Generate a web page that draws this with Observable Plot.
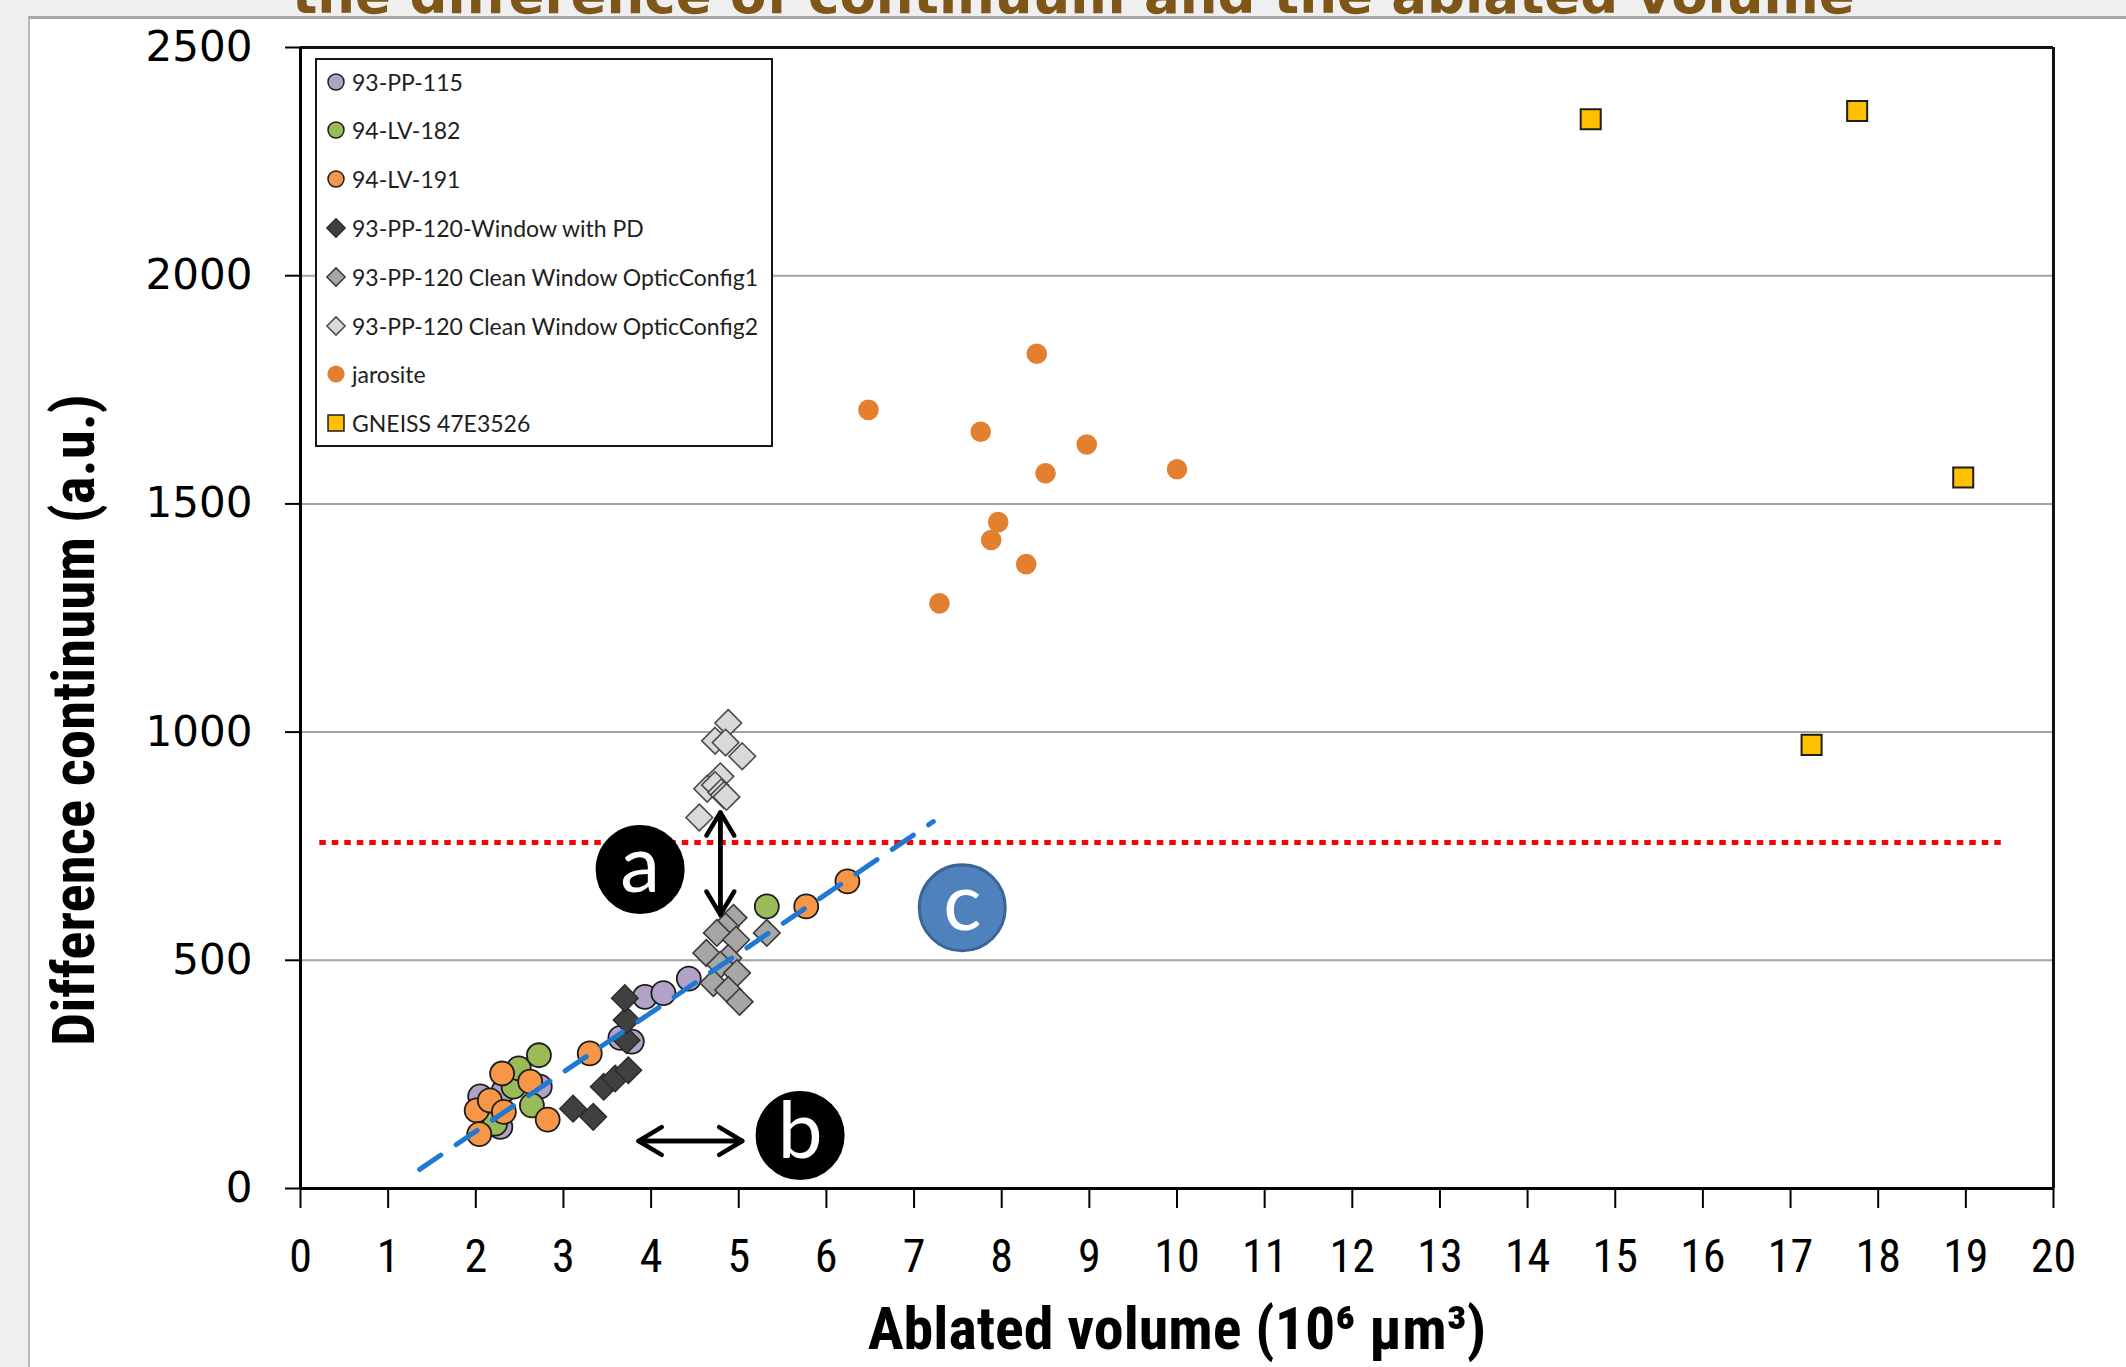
<!DOCTYPE html>
<html>
<head>
<meta charset="utf-8">
<script src="https://cdn.jsdelivr.net/npm/d3@7"></script>
<script src="https://cdn.jsdelivr.net/npm/@observablehq/plot@0.6"></script>
<style>
  html, body { margin: 0; padding: 0; }
  body { width: 2126px; height: 1367px; background: #efefef; position: relative; overflow: hidden; }
  #panel { position: absolute; left: 28px; top: 16px; width: 2098px; height: 1351px; background: #ffffff;
           border-left: 2px solid #b9b9b9; border-top: 3px solid #a9a9a9; box-sizing: border-box; }
  #title { position: absolute; left: 292px; top: -32px; font: bold 53px "DejaVu Sans"; line-height: 1;
           color: #7d5618; white-space: nowrap; }
  #chart { position: absolute; left: 0; top: 0; }
  #legend { position: absolute; left: 315px; top: 58px; width: 458px; height: 389px; box-sizing: border-box;
            border: 2px solid #151515; background: #ffffff; }
  .item { position: absolute; left: 0; height: 30px; display: flex; align-items: center; white-space: nowrap;
          font: 23px Lato, "Open Sans", sans-serif; color: #1e1e1e; }
  .item svg { margin-left: 4px; margin-right: 1px; }
</style>
</head>
<body>
<div id="panel"></div>
<div id="title">the difference of continuum and the ablated volume</div>
<div id="chart"></div>
<div id="legend"></div>
<script>
// ---------------- data ----------------
const seriesNames = [
  "93-PP-115", "94-LV-182", "94-LV-191", "93-PP-120-Window with PD",
  "93-PP-120 Clean Window OpticConfig1", "93-PP-120 Clean Window OpticConfig2",
  "jarosite", "GNEISS 47E3526"
];
// [ablated volume (10^6 µm³), difference continuum (a.u.)]
const pp115 = [[2.05,202],[2.28,135],[2.32,215],[2.73,223],[3.65,330],[3.78,322],[3.93,420],[4.14,428],[4.43,460]];
const lv182 = [[2.22,142],[2.43,223],[2.49,263],[2.64,182],[2.72,292],[5.32,618]];
const lv191 = [[2.01,171],[2.04,119],[2.16,193],[2.30,252],[2.32,168],[2.62,234],[2.82,151],[3.30,296],[5.77,618],[6.24,673]];
const pp120pd = [[3.11,175],[3.34,157],[3.46,223],[3.59,241],[3.74,259],[3.72,325],[3.72,369],[3.70,417]];
const pp120c1 = [[4.94,593],[4.85,574],[4.75,560],[4.97,545],[5.32,560],[4.63,516],[4.88,505],[4.79,490],[4.98,472],[4.71,450],[4.88,435],[5.01,409]];
const pp120c2 = [[4.88,1020],[4.73,981],[4.85,977],[5.04,947],[4.79,903],[4.64,876],[4.73,884],[4.80,868],[4.83,862],[4.86,858],[4.55,813]];
const jarosite = [[6.48,1706],[8.40,1829],[7.76,1658],[8.97,1630],[8.50,1567],[10.0,1576],[7.96,1460],[7.88,1421],[8.28,1368],[7.29,1282]];
const gneiss = [[14.72,2343],[17.76,2361],[18.97,1558],[17.24,972]];

const trendLine = [[1.36,42],[7.22,804]];              // blue dashed fit
const thresholdY = [758]; const thresholdX = [0.22, 19.45]; // red dotted line
const arrowA = [[4.79,600],[4.79,824]];
const arrowB = [[3.857,104],[5.04,104]];
const markerLabels = ["a","b","c"];
const markerPos = [[3.875,699],[5.70,116],[7.55,615]];

const xTicks = [0,1,2,3,4,5,6,7,8,9,10,11,12,13,14,15,16,17,18,19,20];
const yTicks = [0,500,1000,1500,2000,2500];
const gridTicks = [500,1000,1500,2000];
const xTitle = "Ablated volume (10\u2076 \u00b5m\u00b3)";
const yTitle = "Difference continuum (a.u.)";

// ---------------- fonts ----------------
function available(name) {
  const ctx = document.createElement("canvas").getContext("2d");
  const s = "0123456789 Ablated volume Difference";
  ctx.font = "40px monospace"; const a = ctx.measureText(s).width;
  ctx.font = `40px "${name}", monospace`; const b = ctx.measureText(s).width;
  ctx.font = "40px serif"; const c = ctx.measureText(s).width;
  ctx.font = `40px "${name}", serif`; const d = ctx.measureText(s).width;
  return a !== b || c !== d;
}
const NARROW = ["Liberation Sans Narrow", "Arial Narrow", "Roboto Condensed", "DejaVu Sans Condensed"].find(available) || "Liberation Sans";

// ---------------- styles per series ----------------
const seriesData = [pp115, lv182, lv191, pp120pd, pp120c1, pp120c2, jarosite, gneiss];
const seriesFill = ["#b3a2c7", "#9bbb59", "#f79646", "#404040", "#a6a6a6", "#d9d9d9", "#e2802f", "#ffc000"];
const seriesSymbol = ["circle", "circle", "circle", "diamond2", "diamond2", "diamond2", "circle", "square"];
const seriesR = [12, 12, 12, 12, 12, 12, 10.3, 11.3];
const seriesStroke = ["#1d1d1d", "#1d1d1d", "#1d1d1d", "#2a2a2a", "#3a3a3a", "#4a4a4a", "none", "#1d1d1d"];
const seriesSW = [1.8, 1.8, 1.8, 1.4, 1.6, 1.6, 0, 2];

const dotMarks = seriesData.map((data, i) => Plot.dot(data, {
  x: d => d[0], y: d => d[1], symbol: seriesSymbol[i], r: seriesR[i],
  fill: seriesFill[i], stroke: seriesStroke[i], strokeWidth: seriesSW[i]
}));

const markers = markerLabels.map((t, i) => ({t, x: markerPos[i][0], y: markerPos[i][1]}));

const chart = Plot.plot({
  width: 2126, height: 1367,
  marginLeft: 300, marginRight: 73, marginTop: 47, marginBottom: 179,
  x: {domain: [0, 20]},
  y: {domain: [0, 2500]},
  style: {background: "transparent", overflow: "visible", color: "#000"},
  marks: [
    Plot.ruleY(gridTicks, {stroke: "#a3a3a3", strokeWidth: 2}),
    Plot.ruleY([2500], {stroke: "#111", strokeWidth: 3}),
    Plot.ruleX([20], {stroke: "#111", strokeWidth: 3}),
    Plot.axisY(yTicks, {tickSize: 15, tickPadding: 33, fontSize: 42, fontFamily: "DejaVu Sans",
      stroke: "#000", strokeWidth: 2, label: null, tickFormat: d => String(d)}),
    Plot.axisX(xTicks, {tickSize: 20, tickPadding: 31, fontSize: 46, fontFamily: NARROW,
      stroke: "#000", strokeWidth: 2, label: null, tickFormat: d => String(d)}),
    Plot.ruleX([0], {stroke: "#000", strokeWidth: 3}),
    Plot.ruleY([0], {stroke: "#000", strokeWidth: 3}),
    Plot.ruleY(thresholdY, {x1: thresholdX[0], x2: thresholdX[1], stroke: "#ff0000", strokeWidth: 5, strokeDasharray: "6.5,6"}),
    ...dotMarks,
    Plot.line(trendLine, {x: d => d[0], y: d => d[1], stroke: "#1f78d1", strokeWidth: 5, strokeDasharray: "25.5,18.4"}),
    // double-headed arrows (drawn in both directions)
    Plot.arrow([arrowA, [arrowA[1], arrowA[0]]], {x1: d => d[0][0], y1: d => d[0][1], x2: d => d[1][0], y2: d => d[1][1],
      stroke: "#000", strokeWidth: 4.5, headLength: 9, headAngle: 62}),
    Plot.arrow([arrowB, [arrowB[1], arrowB[0]]], {x1: d => d[0][0], y1: d => d[0][1], x2: d => d[1][0], y2: d => d[1][1],
      stroke: "#000", strokeWidth: 4.5, headLength: 9, headAngle: 62}),
    Plot.dot(markers, {x: "x", y: "y", r: 43, fill: d => d.t === "c" ? "#4f81bd" : "#000",
      stroke: d => d.t === "c" ? "#3a6596" : "#000", strokeWidth: 3}),
    Plot.text(markers, {x: "x", y: "y", text: "t", fill: "#fff", fontSize: 80, fontFamily: "Lato",
      textAnchor: "middle", lineAnchor: "middle", dy: -3}),
    Plot.text([xTitle], {frameAnchor: "bottom", dy: 141, text: d => d, fontSize: 60, fontWeight: "bold",
      fontFamily: NARROW, fill: "#000", textAnchor: "middle", lineAnchor: "middle"}),
    Plot.text([yTitle], {frameAnchor: "left", dx: -225, dy: 102, rotate: -90, text: d => d, fontSize: 59,
      fontWeight: "bold", fontFamily: NARROW, fill: "#000", textAnchor: "middle", lineAnchor: "middle"})
  ]
});
document.getElementById("chart").appendChild(chart);

// ---------------- legend ----------------
const legend = d3.select("#legend");
const legendR = [8, 8, 8, 8.2, 8.2, 8.2, 8.6, 9];
seriesNames.forEach((name, i) => {
  const row = legend.append("div").attr("class", "item").style("top", (6.5 + i * 48.8) + "px");
  const svg = row.append("svg").attr("width", 30).attr("height", 30);
  const type = seriesSymbol[i] === "circle" ? d3.symbolCircle : seriesSymbol[i] === "square" ? d3.symbolSquare : d3.symbolDiamond2;
  const r = legendR[i];
  svg.append("path")
    .attr("transform", "translate(15,15)")
    .attr("d", d3.symbol(type, Math.PI * r * r)())
    .attr("fill", seriesFill[i])
    .attr("stroke", seriesStroke[i])
    .attr("stroke-width", seriesStroke[i] === "none" ? 0 : 1.5);
  row.append("span").text(name);
});
</script>
</body>
</html>
